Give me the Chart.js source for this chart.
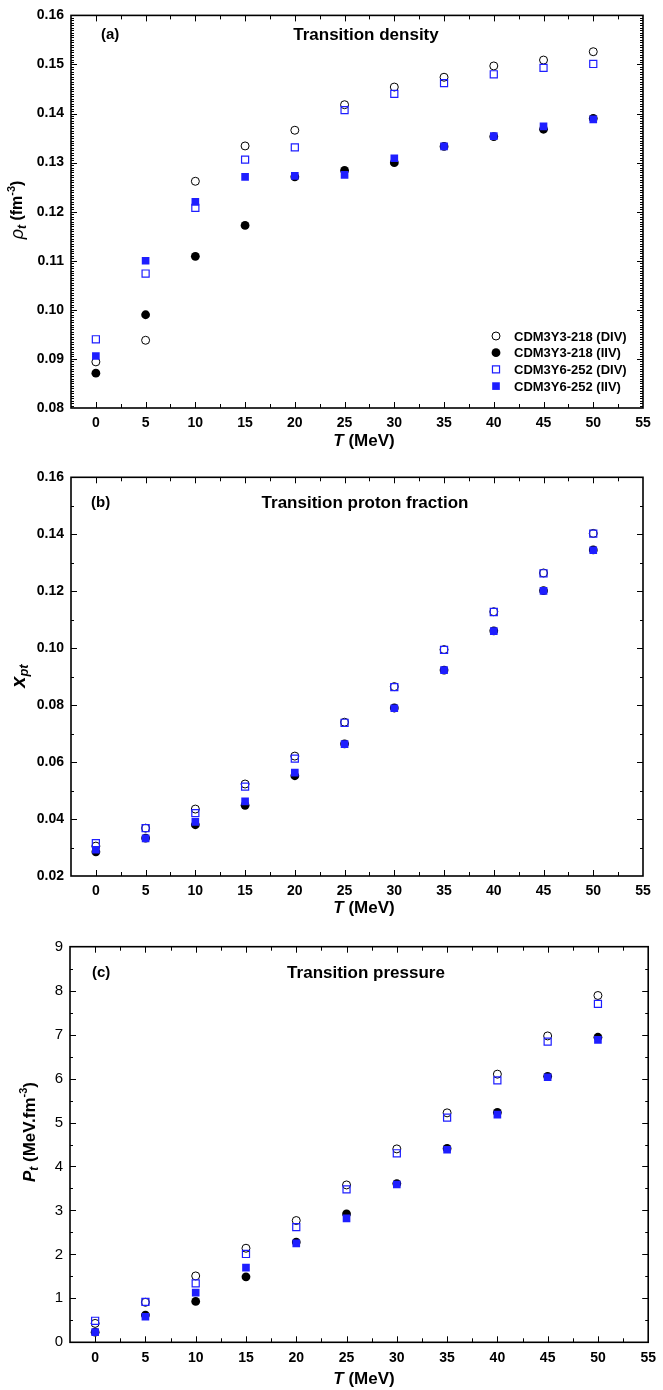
<!DOCTYPE html>
<html>
<head>
<meta charset="utf-8">
<script src="https://cdn.jsdelivr.net/npm/chart.js@4.4.1/dist/chart.umd.min.js"></script>
<style>
  body { margin: 0; background: #fff; width: 663px; height: 1390px; position: relative; overflow: hidden; }
  canvas { position: absolute; left: 0; }
</style>
</head>
<body>
<canvas id="chartA" width="663" height="460" style="top:0px"></canvas>
<canvas id="chartB" width="663" height="460" style="top:460px"></canvas>
<canvas id="chartC" width="663" height="470" style="top:920px"></canvas>
<script>
// temperatures (MeV)
const temps = [0, 5, 10, 15, 20, 25, 30, 35, 40, 45, 50];
const xTicks = [0, 5, 10, 15, 20, 25, 30, 35, 40, 45, 50, 55];

const seriesLabels = ["CDM3Y3-218 (DIV)", "CDM3Y3-218 (IIV)", "CDM3Y6-252 (DIV)", "CDM3Y6-252 (IIV)"];

// (a) transition density
const rhoY3Div = [0.0894, 0.0938, 0.1262, 0.1334, 0.1366, 0.1418, 0.1454, 0.1474, 0.1497, 0.1509, 0.1526];
const rhoY3Iiv = [0.0871, 0.0990, 0.1109, 0.1172, 0.1271, 0.1284, 0.1300, 0.1333, 0.1353, 0.1368, 0.1390];
const rhoY6Div = [0.0940, 0.1074, 0.1208, 0.1306, 0.1331, 0.1407, 0.1440, 0.1462, 0.1480, 0.1493, 0.1501];
const rhoY6Iiv = [0.0906, 0.1100, 0.1220, 0.1271, 0.1273, 0.1275, 0.1309, 0.1333, 0.1354, 0.1374, 0.1388];
const rhoTicks = [0.08, 0.09, 0.10, 0.11, 0.12, 0.13, 0.14, 0.15, 0.16];

// (b) transition proton fraction
const xpY3Div = [0.0305, 0.0368, 0.0435, 0.0523, 0.0621, 0.0740, 0.0865, 0.0995, 0.1128, 0.1264, 0.1403];
const xpY3Iiv = [0.0285, 0.0333, 0.0380, 0.0448, 0.0552, 0.0664, 0.0790, 0.0923, 0.1061, 0.1202, 0.1345];
const xpY6Div = [0.0315, 0.0368, 0.0421, 0.0514, 0.0612, 0.0738, 0.0863, 0.0994, 0.1127, 0.1263, 0.1402];
const xpY6Iiv = [0.0292, 0.0332, 0.0390, 0.0462, 0.0563, 0.0663, 0.0789, 0.0923, 0.1060, 0.1201, 0.1344];
const xpTicks = [0.02, 0.04, 0.06, 0.08, 0.10, 0.12, 0.14, 0.16];

// (c) transition pressure
const pY3Div = [0.43, 0.91, 1.51, 2.14, 2.77, 3.58, 4.40, 5.22, 6.10, 6.97, 7.89];
const pY3Iiv = [0.23, 0.62, 0.93, 1.49, 2.28, 2.92, 3.61, 4.41, 5.23, 6.05, 6.94];
const pY6Div = [0.49, 0.92, 1.34, 2.01, 2.62, 3.48, 4.30, 5.11, 5.96, 6.84, 7.70];
const pY6Iiv = [0.23, 0.58, 1.13, 1.70, 2.25, 2.82, 3.59, 4.38, 5.18, 6.03, 6.88];
const pTicks = [0, 1, 2, 3, 4, 5, 6, 7, 8, 9];

const FONT = "'Liberation Sans', Arial, Helvetica, sans-serif";
const BLUE = "#1e1eff";

function toPoints(ys) {
  return temps.map((t, i) => ({ x: t, y: ys[i] }));
}

function makeDatasets(y3div, y3iiv, y6div, y6iiv) {
  return [
    { label: seriesLabels[0], data: toPoints(y3div), order: 4, pointStyle: "circle", pointRadius: 4,
      borderColor: "#000", backgroundColor: "rgba(0,0,0,0)", borderWidth: 1 },
    { label: seriesLabels[1], data: toPoints(y3iiv), order: 3, pointStyle: "circle", pointRadius: 4.4,
      borderColor: "#000", backgroundColor: "#000", borderWidth: 0 },
    { label: seriesLabels[2], data: toPoints(y6div), order: 2, pointStyle: "rect", pointRadius: 5,
      borderColor: BLUE, backgroundColor: "rgba(0,0,0,0)", borderWidth: 1.2 },
    { label: seriesLabels[3], data: toPoints(y6iiv), order: 1, pointStyle: "rect", pointRadius: 5.4,
      borderColor: BLUE, backgroundColor: BLUE, borderWidth: 0 },
  ];
}

function drawRich(ctx, parts, x, y, rotated) {
  ctx.save();
  ctx.translate(x, y);
  if (rotated) ctx.rotate(-Math.PI / 2);
  let total = 0;
  parts.forEach((p) => { ctx.font = p.font; total += ctx.measureText(p.t).width; });
  let cx = -total / 2;
  ctx.textBaseline = "middle";
  ctx.textAlign = "left";
  ctx.fillStyle = "#000";
  parts.forEach((p) => {
    ctx.font = p.font;
    ctx.fillText(p.t, cx, p.dy || 0);
    cx += ctx.measureText(p.t).width;
  });
  ctx.restore();
}

const panelDecor = {
  id: "panelDecor",
  afterDraw(chart, args, o) {
    const ctx = chart.ctx;
    const a = chart.chartArea;
    const xs = chart.scales.x, ys = chart.scales.y;
    ctx.save();
    ctx.strokeStyle = "#000";
    ctx.lineWidth = 1;
    ctx.beginPath();
    // x ticks, bottom and top, inward
    for (let v = -2.5; v <= 55.001; v += 2.5) {
      const px = Math.round(xs.getPixelForValue(v)) + 0.5;
      const major = Math.abs(v % 5) < 1e-6;
      const len = major ? 6 : 4;
      if (px <= a.left + 1 || px >= a.right - 1) continue;
      ctx.moveTo(px, a.bottom); ctx.lineTo(px, a.bottom - len);
      ctx.moveTo(px, a.top); ctx.lineTo(px, a.top + len);
    }
    // y ticks, left and right, inward
    const n = Math.round((o.yMax - o.yMin) / o.yMinor);
    const per = Math.round(o.yMajor / o.yMinor);
    for (let i = 1; i < n; i++) {
      const v = o.yMin + i * o.yMinor;
      const py = Math.round(ys.getPixelForValue(v)) + 0.5;
      const len = i % per === 0 ? 6 : 3;
      ctx.moveTo(a.left, py); ctx.lineTo(a.left + len, py);
      ctx.moveTo(a.right, py); ctx.lineTo(a.right - len, py);
    }
    ctx.stroke();
    ctx.lineWidth = 1.6;
    ctx.strokeRect(a.left, a.top, a.right - a.left, a.bottom - a.top);

    // panel letter and title
    ctx.fillStyle = "#000";
    ctx.textBaseline = "middle";
    ctx.font = "bold 15px " + FONT;
    ctx.textAlign = "left";
    ctx.fillText(o.letter, o.letterX, o.letterY);
    ctx.font = "bold 17px " + FONT;
    ctx.textAlign = "center";
    ctx.fillText(o.title, o.titleX, o.letterY);

    // axis titles
    drawRich(ctx, [
      { t: "T", font: "italic bold 17px " + FONT },
      { t: " (MeV)", font: "bold 17px " + FONT },
    ], o.xTitleX, o.xTitleY, false);
    drawRich(ctx, o.yTitle, o.yTitleX, o.yTitleY, true);

    // legend
    if (o.legend) {
      chart.data.datasets.forEach((ds, i) => {
        const ly = o.legendY + i * 16.7;
        ctx.fillStyle = ds.backgroundColor;
        ctx.strokeStyle = ds.borderColor;
        ctx.lineWidth = ds.borderWidth;
        Chart.helpers.drawPoint(ctx, { pointStyle: ds.pointStyle, radius: ds.pointRadius,
          borderWidth: ds.borderWidth, rotation: 0 }, o.legendX, ly);
        ctx.fillStyle = "#000";
        ctx.font = "bold 13px " + FONT;
        ctx.textAlign = "left";
        ctx.textBaseline = "middle";
        ctx.fillText(ds.label, o.legendX + 18, ly + 1);
      });
    }
    ctx.restore();
  },
};

function makePanel(id, p) {
  const canvas = document.getElementById(id);
  const H = canvas.height;
  return new Chart(canvas, {
    type: "scatter",
    data: { datasets: p.datasets },
    options: {
      responsive: false,
      animation: false,
      events: [],
      layout: { padding: { left: 0, top: p.top, right: 663 - p.right, bottom: 0 } },
      plugins: {
        legend: { display: false },
        tooltip: { enabled: false },
        panelDecor: p.decor,
      },
      scales: {
        x: {
          type: "linear",
          min: -2.5,
          max: 55,
          afterBuildTicks: (s) => { s.ticks = xTicks.map((v) => ({ value: v })); },
          afterFit: (s) => { s.height = H - p.bottom; },
          grid: { display: false, drawTicks: false },
          border: { display: false },
          ticks: { color: "#000", padding: 7, maxRotation: 0, autoSkip: false,
            font: { family: FONT, size: 14, weight: "bold" } },
        },
        y: {
          type: "linear",
          min: p.yTicks[0],
          max: p.yTicks[p.yTicks.length - 1],
          afterBuildTicks: (s) => { s.ticks = p.yTicks.map((v) => ({ value: v })); },
          afterFit: (s) => { s.width = p.left; },
          grid: { display: false, drawTicks: false },
          border: { display: false },
          ticks: { color: "#000", padding: 7, autoSkip: false,
            callback: p.yFormat, font: p.yFont },
        },
      },
    },
    plugins: [panelDecor],
  });
}

makePanel("chartA", {
  datasets: makeDatasets(rhoY3Div, rhoY3Iiv, rhoY6Div, rhoY6Iiv),
  left: 71, right: 643, top: 12, bottom: 408,
  yTicks: rhoTicks,
  yFormat: (v) => v.toFixed(2),
  yFont: { family: FONT, size: 14, weight: "bold" },
  decor: {
    yMin: 0.08, yMax: 0.16, yMajor: 0.01, yMinor: 0.0005,
    letter: "(a)", letterX: 101, letterY: 35,
    title: "Transition density", titleX: 366,
    xTitleX: 364, xTitleY: 441,
    yTitleX: 18, yTitleY: 210,
    yTitle: [
      { t: "\u03c1", font: "italic 18px " + FONT },
      { t: "t", font: "italic bold 12px " + FONT, dy: 5 },
      { t: " (fm", font: "bold 16px " + FONT },
      { t: "-3", font: "bold 11px " + FONT, dy: -6 },
      { t: ")", font: "bold 16px " + FONT },
    ],
    legend: true, legendX: 496, legendY: 336,
  },
});

makePanel("chartB", {
  datasets: makeDatasets(xpY3Div, xpY3Iiv, xpY6Div, xpY6Iiv),
  left: 71, right: 643, top: 17.3, bottom: 416,
  yTicks: xpTicks,
  yFormat: (v) => v.toFixed(2),
  yFont: { family: FONT, size: 14, weight: "bold" },
  decor: {
    yMin: 0.02, yMax: 0.16, yMajor: 0.02, yMinor: 0.01,
    letter: "(b)", letterX: 91, letterY: 43,
    title: "Transition proton fraction", titleX: 365,
    xTitleX: 364, xTitleY: 448,
    yTitleX: 19, yTitleY: 216,
    yTitle: [
      { t: "x", font: "italic bold 20px " + FONT },
      { t: "pt", font: "italic bold 13px " + FONT, dy: 5 },
    ],
    legend: false,
  },
});

makePanel("chartC", {
  datasets: makeDatasets(pY3Div, pY3Iiv, pY6Div, pY6Iiv),
  left: 70, right: 654, top: 26.7, bottom: 422.3,
  yTicks: pTicks,
  yFormat: (v) => String(v),
  yFont: { family: FONT, size: 15, weight: "normal" },
  decor: {
    yMin: 0, yMax: 9, yMajor: 1, yMinor: 0.5,
    letter: "(c)", letterX: 92, letterY: 53,
    title: "Transition pressure", titleX: 366,
    xTitleX: 364, xTitleY: 459,
    yTitleX: 30, yTitleY: 212,
    yTitle: [
      { t: "P", font: "italic bold 17px " + FONT },
      { t: "t", font: "italic bold 12px " + FONT, dy: 5 },
      { t: " (MeV.fm", font: "bold 17px " + FONT },
      { t: "-3", font: "bold 11px " + FONT, dy: -6 },
      { t: ")", font: "bold 17px " + FONT },
    ],
    legend: false,
  },
});
</script>
</body>
</html>
